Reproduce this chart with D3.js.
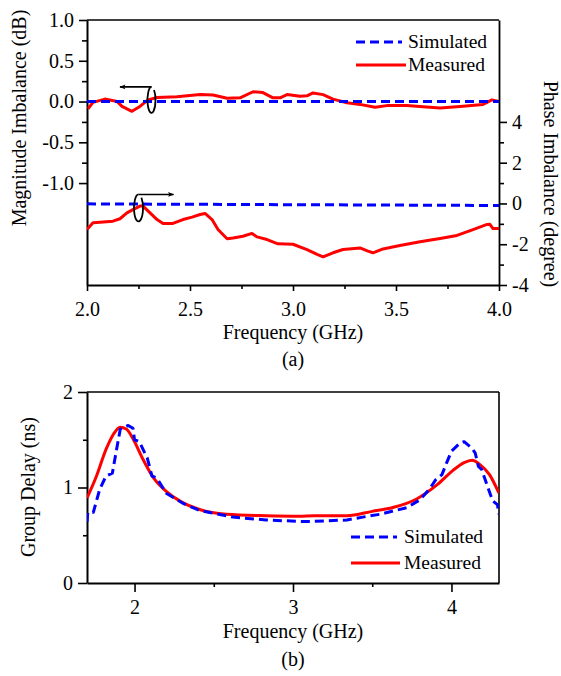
<!DOCTYPE html>
<html>
<head>
<meta charset="utf-8">
<script src="https://cdn.jsdelivr.net/npm/d3@7"></script>
<style>
  html, body { margin: 0; padding: 0; background: #fff; }
</style>
</head>
<body>
<svg id="chart" width="561" height="676"></svg>
<script>
// ---------------- DATA ----------------
// (a) Magnitude imbalance (dB), left axis
const magFreq = [2.005, 2.029, 2.087, 2.146, 2.170, 2.218, 2.257, 2.296, 2.340, 2.437, 2.549, 2.612, 2.680, 2.743, 2.806, 2.854, 2.903, 2.937, 2.971, 3.034, 3.068, 3.097, 3.146, 3.194, 3.262, 3.325, 3.398, 3.456, 3.553, 3.631, 3.714, 3.811, 3.922, 3.966, 4.0];
const magMeasured = [-0.09, -0.01, 0.03, 0.0, -0.06, -0.12, -0.06, 0.02, 0.05, 0.06, 0.085, 0.08, 0.04, 0.045, 0.12, 0.11, 0.045, 0.045, 0.085, 0.065, 0.07, 0.105, 0.085, 0.03, -0.015, -0.035, -0.07, -0.05, -0.05, -0.065, -0.08, -0.06, -0.035, 0.02, 0.0];
const magSimFreq = [2.0, 4.0];
const magSimulated = [0.0, 0.0];

// (a) Phase imbalance (degree), right axis
const phFreq = [2.0, 2.029, 2.063, 2.126, 2.160, 2.194, 2.223, 2.257, 2.272, 2.306, 2.340, 2.369, 2.417, 2.466, 2.510, 2.549, 2.573, 2.607, 2.636, 2.680, 2.709, 2.757, 2.801, 2.825, 2.874, 2.927, 3.0, 3.068, 3.117, 3.146, 3.194, 3.243, 3.325, 3.364, 3.388, 3.437, 3.519, 3.617, 3.714, 3.796, 3.874, 3.942, 3.956, 3.971, 4.0];
const phMeasured = [-1.28, -0.95, -0.92, -0.87, -0.75, -0.46, -0.30, -0.13, -0.13, -0.46, -0.79, -0.98, -0.98, -0.79, -0.67, -0.54, -0.49, -0.79, -1.28, -1.73, -1.69, -1.61, -1.47, -1.64, -1.77, -1.98, -2.0, -2.26, -2.5, -2.62, -2.42, -2.26, -2.18, -2.34, -2.42, -2.23, -2.06, -1.88, -1.72, -1.57, -1.28, -1.03, -1.02, -1.23, -1.23];
const phSimFreq = [2.0, 4.0];
const phSimulated = [-0.02, -0.1];

// (b) Group delay (ns)
const gdMeasFreq = [1.70, 1.76, 1.82, 1.88, 1.91, 1.95, 1.99, 2.055, 2.12, 2.20, 2.29, 2.41, 2.58, 2.83, 3.04, 3.13, 3.34, 3.50, 3.63, 3.78, 3.91, 4.01, 4.08, 4.13, 4.18, 4.24, 4.30];
const gdMeasured = [0.89, 1.12, 1.40, 1.59, 1.63, 1.61, 1.51, 1.29, 1.10, 0.96, 0.855, 0.77, 0.72, 0.705, 0.70, 0.705, 0.705, 0.75, 0.79, 0.88, 1.03, 1.18, 1.26, 1.285, 1.24, 1.135, 0.94];
const gdSimFreq = [1.70, 1.705, 1.74, 1.78, 1.82, 1.86, 1.89, 1.91, 1.96, 1.99, 2.00, 2.03, 2.08, 2.11, 2.14, 2.20, 2.31, 2.41, 2.62, 2.83, 3.04, 3.13, 3.34, 3.44, 3.55, 3.72, 3.80, 3.86, 3.90, 3.94, 3.97, 4.00, 4.05, 4.08, 4.13, 4.15, 4.17, 4.19, 4.23, 4.26, 4.29, 4.30];
const gdSimulated = [0.64, 0.74, 0.74, 0.98, 1.12, 1.15, 1.43, 1.61, 1.65, 1.62, 1.50, 1.48, 1.31, 1.12, 1.10, 0.94, 0.83, 0.76, 0.69, 0.66, 0.645, 0.645, 0.66, 0.69, 0.72, 0.79, 0.87, 0.98, 1.08, 1.135, 1.26, 1.38, 1.46, 1.48, 1.41, 1.36, 1.22, 1.19, 1.00, 0.86, 0.82, 0.72];

// Ticks
const aXTicks = [2.0, 2.5, 3.0, 3.5, 4.0];
const aXMinor = [2.25, 2.75, 3.25, 3.75];
const magTicks = [1.0, 0.5, 0.0, -0.5, -1.0];
const magMinor = [0.75, 0.25, -0.25, -0.75];
const phTicks = [4, 2, 0, -2, -4];
const phMinor = [3, 1, -1, -3];
const bXTicks = [2, 3, 4];
const bXMinor = [2.5, 3.5];
const bYTicks = [0, 1, 2];
const bYMinor = [0.5, 1.5];

const seriesNames = ["Simulated", "Measured"];

// ---------------- DRAW ----------------
const svg = d3.select("#chart");
const BLUE = "#0000ff", RED = "#ff0000";
const FONT = '"Liberation Serif", "Times New Roman", Tinos, serif';
const FS = "20px";

function zip(a, b) { return a.map((v, i) => [v, b[i]]); }
function txt(sel, size) { return sel.style("font-family", FONT).style("font-size", size || FS).style("fill", "#000"); }

function styleAxis(g, w) {
  g.select(".domain").attr("stroke", "#000").attr("stroke-width", w || 2);
  g.selectAll(".tick line").attr("stroke", "#000").attr("stroke-width", 1.6);
  txt(g.selectAll(".tick text"));
}
function minor(g) { g.select(".domain").remove(); g.selectAll("line").attr("stroke", "#000").attr("stroke-width", 1.6); }

// ===== Chart (a) =====
const A = { l: 87, r: 499, t: 20, b: 285 };
const xa = d3.scaleLinear([2, 4], [A.l, A.r]);
const yMag = d3.scaleLinear([-2.25, 1], [A.b, A.t]);
const yPh = d3.scaleLinear([-4, 9], [A.b, A.t]);

svg.append("clipPath").attr("id", "clipA").append("rect")
  .attr("x", A.l).attr("y", A.t).attr("width", A.r - A.l).attr("height", A.b - A.t);

svg.append("line").attr("x1", A.l).attr("x2", A.r).attr("y1", A.t).attr("y2", A.t).attr("stroke", "#000").attr("stroke-width", 1.6);

const axA = svg.append("g").attr("transform", `translate(0,${A.b})`)
  .call(d3.axisBottom(xa).tickValues(aXTicks).tickSize(6).tickPadding(11).tickSizeOuter(0).tickFormat(d => d.toFixed(1)));
styleAxis(axA);
svg.append("g").attr("transform", `translate(0,${A.b})`)
  .call(d3.axisBottom(xa).tickValues(aXMinor).tickSize(4).tickFormat("").tickSizeOuter(0)).call(minor);

const ayL = svg.append("g").attr("transform", `translate(${A.l},0)`)
  .call(d3.axisLeft(yMag).tickValues(magTicks).tickSize(8).tickPadding(5).tickSizeOuter(0).tickFormat(d => d.toFixed(1)));
styleAxis(ayL);
svg.append("g").attr("transform", `translate(${A.l},0)`)
  .call(d3.axisLeft(yMag).tickValues(magMinor).tickSize(5).tickFormat("").tickSizeOuter(0)).call(minor);

const ayR = svg.append("g").attr("transform", `translate(${A.r},0)`)
  .call(d3.axisRight(yPh).tickValues(phTicks).tickSize(8).tickPadding(5).tickSizeOuter(0).tickFormat(d => String(d)));
styleAxis(ayR, 1.8);
svg.append("g").attr("transform", `translate(${A.r},0)`)
  .call(d3.axisRight(yPh).tickValues(phMinor).tickSize(5).tickFormat("").tickSizeOuter(0)).call(minor);

const plotA = svg.append("g").attr("clip-path", "url(#clipA)");
const lineMag = d3.line().x(d => xa(d[0])).y(d => yMag(d[1]));
const linePh = d3.line().x(d => xa(d[0])).y(d => yPh(d[1]));
plotA.append("path").attr("d", lineMag(zip(magFreq, magMeasured)))
  .attr("fill", "none").attr("stroke", RED).attr("stroke-width", 3).attr("stroke-linejoin", "round");
plotA.append("path").attr("d", linePh(zip(phFreq, phMeasured)))
  .attr("fill", "none").attr("stroke", RED).attr("stroke-width", 3).attr("stroke-linejoin", "round");
plotA.append("path").attr("d", lineMag(zip(magSimFreq, magSimulated)))
  .attr("fill", "none").attr("stroke", BLUE).attr("stroke-width", 3).attr("stroke-dasharray", "9,5");
plotA.append("path").attr("d", linePh(zip(phSimFreq, phSimulated)))
  .attr("fill", "none").attr("stroke", BLUE).attr("stroke-width", 3).attr("stroke-dasharray", "9,5");

// arrow marker
const defs = svg.append("defs");
defs.append("marker").attr("id", "arrow").attr("viewBox", "0 0 10 10")
  .attr("refX", 9).attr("refY", 5).attr("markerWidth", 10).attr("markerHeight", 6)
  .attr("markerUnits", "userSpaceOnUse").attr("orient", "auto")
  .append("path").attr("d", "M0,1 L10,5 L0,9 L2,5 Z").attr("fill", "#000");

function curl(cx, cy, rx, ry, tipX) {
  const a = Math.PI / 4.5;
  const ex = cx + rx * Math.sin(a), ey = cy - ry * Math.cos(a);
  svg.append("path").attr("d", `M${cx},${cy - ry} A${rx},${ry} 0 1 0 ${ex},${ey}`)
    .attr("fill", "none").attr("stroke", "#000").attr("stroke-width", 1.8);
  svg.append("line").attr("x1", cx).attr("y1", cy - ry).attr("x2", tipX).attr("y2", cy - ry)
    .attr("stroke", "#000").attr("stroke-width", 1.6).attr("marker-end", "url(#arrow)");
}
curl(xa(2.313), yMag(0.02), 4, 13, xa(2.16));
curl(xa(2.25), yPh(-0.22), 4.5, 13.5, xa(2.42));

// legend (a)
const legA = [{ y: 42, c: BLUE, dash: "9,5", x2: 402 }, { y: 65, c: RED, dash: null, x2: 406 }];
legA.forEach((d, i) => {
  svg.append("line").attr("x1", 356).attr("x2", d.x2).attr("y1", d.y).attr("y2", d.y)
    .attr("stroke", d.c).attr("stroke-width", 3).attr("stroke-dasharray", d.dash);
  txt(svg.append("text").attr("x", 408).attr("y", d.y).attr("dy", "0.33em"), "19.5px").text(seriesNames[i]);
});

txt(svg.append("text").attr("transform", "translate(19,118) rotate(-90)").attr("text-anchor", "middle")
  .attr("dy", "0.33em")).text("Magnitude Imbalance (dB)");
txt(svg.append("text").attr("transform", "translate(551,184) rotate(90)").attr("text-anchor", "middle")
  .attr("dy", "0.33em")).text("Phase Imbalance (degree)");
txt(svg.append("text").attr("x", 293).attr("y", 339).attr("text-anchor", "middle")).text("Frequency (GHz)");
txt(svg.append("text").attr("x", 293).attr("y", 366).attr("text-anchor", "middle")).text("(a)");

// ===== Chart (b) =====
const B = { l: 87, r: 499, t: 392, b: 583 };
const xb = d3.scaleLinear([1.7, 4.3], [B.l, B.r]);
const yb = d3.scaleLinear([0, 2], [B.b, B.t]);

svg.append("clipPath").attr("id", "clipB").append("rect")
  .attr("x", B.l).attr("y", B.t).attr("width", B.r - B.l).attr("height", B.b - B.t);

svg.append("line").attr("x1", B.l).attr("x2", B.r).attr("y1", B.t).attr("y2", B.t).attr("stroke", "#000").attr("stroke-width", 1.6);
svg.append("line").attr("x1", B.r).attr("x2", B.r).attr("y1", B.t).attr("y2", B.b).attr("stroke", "#000").attr("stroke-width", 1.6);

const axB = svg.append("g").attr("transform", `translate(0,${B.b})`)
  .call(d3.axisBottom(xb).tickValues(bXTicks).tickSize(9).tickPadding(8).tickSizeOuter(0).tickFormat(d => String(d)));
styleAxis(axB);
svg.append("g").attr("transform", `translate(0,${B.b})`)
  .call(d3.axisBottom(xb).tickValues(bXMinor).tickSize(4).tickFormat("").tickSizeOuter(0)).call(minor);

const ayB = svg.append("g").attr("transform", `translate(${B.l},0)`)
  .call(d3.axisLeft(yb).tickValues(bYTicks).tickSize(9).tickPadding(5).tickSizeOuter(0).tickFormat(d => String(d)));
styleAxis(ayB);
svg.append("g").attr("transform", `translate(${B.l},0)`)
  .call(d3.axisLeft(yb).tickValues(bYMinor).tickSize(4).tickFormat("").tickSizeOuter(0)).call(minor);

const plotB = svg.append("g").attr("clip-path", "url(#clipB)");
plotB.append("path")
  .attr("d", d3.line().x(d => xb(d[0])).y(d => yb(d[1])).curve(d3.curveMonotoneX)(zip(gdMeasFreq, gdMeasured)))
  .attr("fill", "none").attr("stroke", RED).attr("stroke-width", 3);
plotB.append("path")
  .attr("d", d3.line().x(d => xb(d[0])).y(d => yb(d[1]))(zip(gdSimFreq, gdSimulated)))
  .attr("fill", "none").attr("stroke", BLUE).attr("stroke-width", 3).attr("stroke-dasharray", "9,5").attr("stroke-linejoin", "round");

const legB = [{ y: 537, c: BLUE, dash: "9,5", x2: 397 }, { y: 563, c: RED, dash: null, x2: 400 }];
legB.forEach((d, i) => {
  svg.append("line").attr("x1", 351).attr("x2", d.x2).attr("y1", d.y).attr("y2", d.y)
    .attr("stroke", d.c).attr("stroke-width", 3).attr("stroke-dasharray", d.dash);
  txt(svg.append("text").attr("x", 404).attr("y", d.y).attr("dy", "0.33em"), "19.5px").text(seriesNames[i]);
});

txt(svg.append("text").attr("transform", "translate(28,487) rotate(-90)").attr("text-anchor", "middle")
  .attr("dy", "0.33em")).text("Group Delay (ns)");
txt(svg.append("text").attr("x", 293).attr("y", 638).attr("text-anchor", "middle")).text("Frequency (GHz)");
txt(svg.append("text").attr("x", 293).attr("y", 666).attr("text-anchor", "middle")).text("(b)");
</script>
</body>
</html>
